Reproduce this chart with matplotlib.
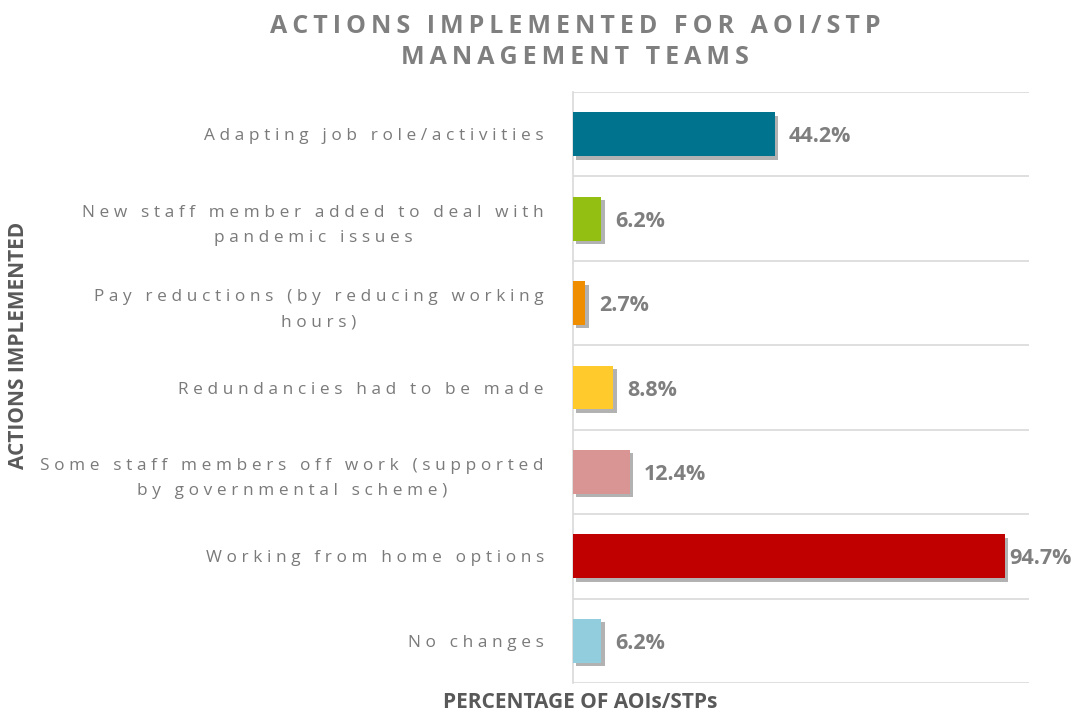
import matplotlib
matplotlib.use("Agg")
import matplotlib.pyplot as plt
import matplotlib.patheffects as pe

categories = [
    "Adapting job role/activities",
    "New staff member added to deal with\npandemic issues",
    "Pay reductions (by reducing working\nhours)",
    "Redundancies had to be made",
    "Some staff members off work (supported\nby governmental scheme)",
    "Working from home options",
    "No changes",
]
values = [44.2, 6.2, 2.7, 8.8, 12.4, 94.7, 6.2]
colors = ["#00738F", "#93BF12", "#EE8E00", "#FFCA2B", "#D99593", "#C00000", "#92CDDD"]
title = "ACTIONS IMPLEMENTED FOR AOI/STP\nMANAGEMENT TEAMS"
xlabel = "PERCENTAGE OF AOIs/STPs"
ylabel = "ACTIONS IMPLEMENTED"

GRAY = "#7F7F7F"
FAM = ["Open Sans", "DejaVu Sans"]
plt.rcParams['font.family'] = FAM

def spaced(s, sp="\u2009"):
    return "\n".join(sp.join(list(line)) for line in s.split("\n"))

fig = plt.figure(figsize=(10.75, 7.15), dpi=100)
ax = fig.add_axes([573/1075, 1-683/715, (1029-573)/1075, (683-92)/715])

n = len(categories)
ypos = list(range(n))
bars = ax.barh(ypos, values, height=0.52, color=colors, zorder=3)
for b in bars:
    b.set_path_effects([pe.SimplePatchShadow(offset=(2.5, -2.5), shadow_rgbFace="#000000", alpha=0.3), pe.Normal()])

for y, v in zip(ypos, values):
    off = 3 if v > 90 else 10
    ax.annotate(f"{v}%", (v, y + 0.03), xytext=(off, 0), textcoords="offset points",
                va="center", ha="left", fontsize=15.5,
                fontweight="bold", color=GRAY, zorder=4, annotation_clip=False)

ax.set_xlim(0, 100)
ax.set_ylim(n - 0.5, -0.5)
for b in [i - 0.5 for i in range(n + 1)]:
    ax.axhline(b, color="#D9D9D9", lw=1.2, zorder=1)
ax.set_xticks([])
ax.set_yticks(ypos)
ax.set_yticklabels([spaced(c, "\u2009\u200a") for c in categories], fontsize=12.4, color="#7A7A7A",
                   linespacing=1.75)
ax.tick_params(axis="y", length=0, pad=21)
for s in ["top", "right", "bottom"]:
    ax.spines[s].set_visible(False)
ax.spines["left"].set_color("#D9D9D9")
ax.spines["left"].set_linewidth(1.2)
for lab in ax.get_yticklabels():
    lab.set_horizontalalignment("right")
    lab.set_multialignment("center")

fig.text(575/1075, 1-42/715, spaced(title, "\u2009"), ha="center", va="center",
         fontsize=18, fontweight="bold", color=GRAY, linespacing=1.3)
fig.text(580/1075, 1-703/715, xlabel, ha="center", va="center", fontsize=15,
         fontweight="bold", color="#595959")
fig.text(19/1075, 1-345/715, ylabel, ha="center", va="center", rotation=90,
         fontsize=15, fontweight="bold", color="#595959")

fig.savefig("out.png", dpi=100)
